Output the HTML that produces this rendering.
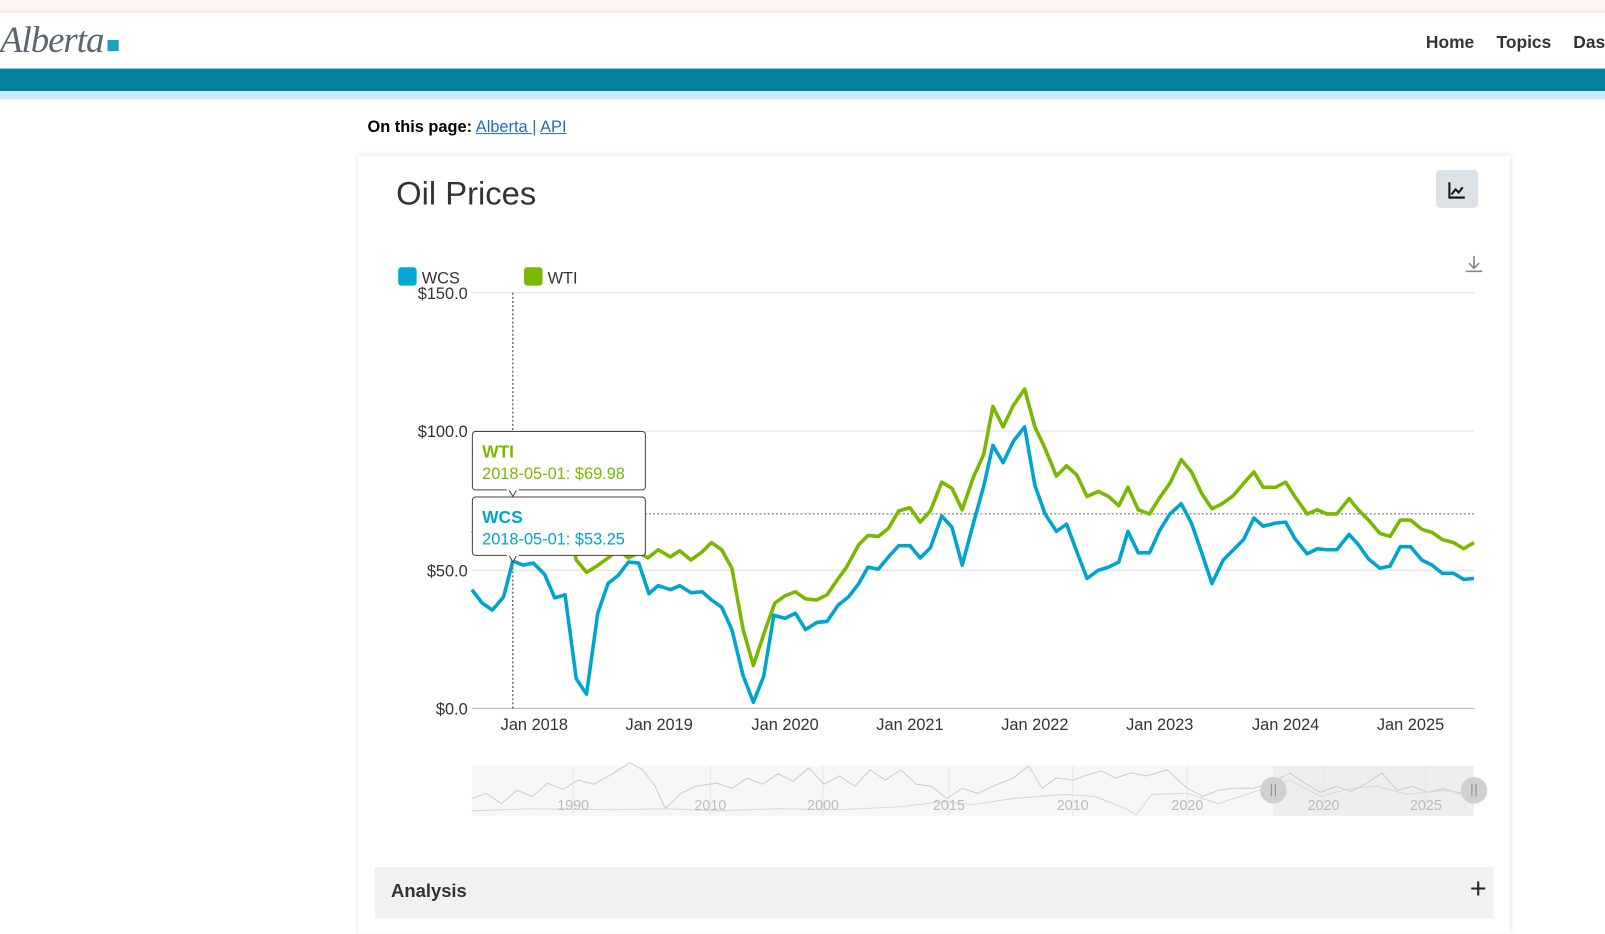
<!DOCTYPE html>
<html><head><meta charset="utf-8"><style>
html,body{margin:0;padding:0;width:1605px;height:905px;overflow:hidden;background:#fff;}
#w{position:absolute;left:0;top:0;width:1568px;height:884px;transform:scale(1.02360,1.02375);transform-origin:0 0;font-family:"Liberation Sans",sans-serif;}
.a{position:absolute;}
</style></head><body><div id="w">
<div class="a" style="left:0;top:0;width:1568px;height:11px;background:#fdf5f3;border-bottom:1px solid #f0dede;"></div>
<div class="a" style="left:0;top:18px;font-family:'Liberation Serif',serif;font-style:italic;font-size:36px;color:#5a6670;letter-spacing:-1px;">Alberta</div>
<div class="a" style="left:105px;top:39px;width:11px;height:11px;background:#1aa1c8;"></div>
<div class="a" style="left:1393px;top:32px;font-size:17px;font-weight:bold;color:#333;">Home</div>
<div class="a" style="left:1462px;top:32px;font-size:17px;font-weight:bold;color:#333;">Topics</div>
<div class="a" style="left:1537px;top:32px;font-size:17px;font-weight:bold;color:#333;">Dashboards</div>
<div class="a" style="left:0;top:67px;width:1568px;height:22px;background:#03809f;"></div>
<div class="a" style="left:0;top:89px;width:1568px;height:8px;background:#c8ecf8;"></div>
<div class="a" style="left:359px;top:116px;font-size:16px;color:#000;"><b>On this page:</b> <span style="color:#1f6fb8;text-decoration:underline;">Alberta </span><span style="color:#1f6fb8;">|</span> <span style="color:#1f6fb8;text-decoration:underline;">API</span></div>
<div class="a" style="left:350px;top:152px;width:1125px;height:760px;background:#fff;box-shadow:0 0 6px rgba(0,0,0,0.15);"></div>
<div class="a" style="left:387px;top:171px;font-size:32px;color:#333;">Oil Prices</div>
<div class="a" style="left:1403px;top:166px;width:41px;height:37px;background:#dce1e6;border-radius:4px;"></div>
<div class="a" style="left:366px;top:847px;width:1093px;height:50px;background:#f1f1f1;"></div>
<div class="a" style="left:382px;top:860px;font-size:18px;font-weight:bold;color:#333;">Analysis</div>
<div class="a" style="left:1436px;top:852px;font-size:28px;color:#222;">+</div>
<svg class="a" style="left:0;top:0" width="1568" height="884" xmlns="http://www.w3.org/2000/svg" font-family="Liberation Sans, sans-serif">
<path d="M1416 178v15h15M1418 190l4-5 3 3 4-5" stroke="#111" stroke-width="2" fill="none"/>
<path d="M1440 250v12M1435 257l5 5 5-5M1432 265h16" stroke="#888" stroke-width="1.6" fill="none"/>
<rect x="389" y="261" width="18" height="18" rx="3" fill="#00a9d4"/><text x="412" y="277" font-size="16" fill="#333">WCS</text>
<rect x="512" y="261" width="18" height="18" rx="3" fill="#7ab800"/><text x="535" y="277" font-size="16" fill="#333">WTI</text>
<g stroke="#ddd" stroke-width="1"><line x1="461" y1="286" x2="1440" y2="286"/><line x1="461" y1="421" x2="1440" y2="421"/><line x1="461" y1="557" x2="1440" y2="557"/></g>
<line x1="461" y1="692" x2="1440" y2="692" stroke="#bbb"/>
<g font-size="16" fill="#333" text-anchor="end"><text x="457" y="292">$150.0</text><text x="457" y="427">$100.0</text><text x="457" y="563">$50.0</text><text x="457" y="698">$0.0</text></g>
<g font-size="16" fill="#333" text-anchor="middle"><text x="522" y="713">Jan 2018</text><text x="644" y="713">Jan 2019</text><text x="767" y="713">Jan 2020</text><text x="889" y="713">Jan 2021</text><text x="1011" y="713">Jan 2022</text><text x="1133" y="713">Jan 2023</text><text x="1256" y="713">Jan 2024</text><text x="1378" y="713">Jan 2025</text></g>
<line x1="501" y1="286" x2="501" y2="692" stroke="#333" stroke-dasharray="2,2"/>
<line x1="630" y1="502" x2="1440" y2="502" stroke="#666" stroke-dasharray="2,2"/>
<polyline fill="none" stroke="#7ab800" stroke-width="3.5" stroke-linejoin="round" points="461,519 471,524 481,522 491,512 501,502 512,508 522,500 532,508 542,502 552,500 563,547 573,559 583,553 594,545 604,537 614,545 624,540 633,545 643,537 655,544 664,538 675,547 686,539 695,530 705,537 715,555 726,615 736,650 748,614 757,589 767,582 777,578 787,585 798,586 808,581 819,565 827,554 839,532 848,523 858,524 868,516 878,499 889,496 899,510 909,499 920,471 930,477 940,498 951,466 961,444 970,397 980,417 990,396 1001,380 1011,417 1021,438 1032,465 1042,455 1052,464 1062,485 1073,480 1083,485 1093,494 1102,476 1112,498 1123,502 1133,486 1143,472 1154,449 1164,461 1174,482 1184,497 1194,492 1205,484 1215,472 1225,461 1234,476 1246,476 1256,471 1265,485 1277,502 1287,498 1296,502 1306,502 1318,487 1327,498 1337,508 1348,521 1358,524 1368,508 1378,508 1389,517 1399,520 1409,527 1420,530 1430,536 1440,530"/>
<polyline fill="none" stroke="#00a5cf" stroke-width="3.5" stroke-linejoin="round" points="461,576 471,589 481,596 492,583 501,548 511,552 521,550 532,561 542,584 552,581 563,663 573,678 584,599 594,570 604,562 614,549 624,550 634,580 643,572 655,576 664,572 675,579 686,578 695,586 705,593 715,615 726,660 736,686 746,661 756,601 767,604 777,599 787,615 798,608 808,607 819,591 829,583 839,570 848,554 858,556 868,544 878,533 889,533 899,545 909,535 920,504 930,515 940,552 951,511 961,475 970,435 980,452 990,431 1001,417 1011,474 1021,502 1032,519 1042,512 1052,539 1062,565 1073,557 1083,554 1093,549 1102,519 1112,540 1123,540 1133,518 1143,502 1154,492 1164,511 1174,540 1184,570 1195,547 1205,537 1215,527 1225,506 1234,514 1246,511 1256,510 1265,526 1277,541 1287,536 1296,537 1306,537 1318,522 1327,532 1337,546 1348,555 1358,553 1368,534 1378,534 1389,547 1399,552 1409,560 1420,560 1430,566 1440,565"/>
<rect x="461.5" y="421.5" width="169" height="57" rx="3" fill="#fff" stroke="#444"/>
<path d="M497 478l4 7 4-7" fill="#fff" stroke="#444"/><rect x="495" y="476" width="12" height="3" fill="#fff"/>
<text x="471" y="447" font-size="17" font-weight="bold" fill="#7ab800">WTI</text>
<text x="471" y="468" font-size="16" fill="#7ab800">2018-05-01: $69.98</text>
<rect x="461.5" y="485.5" width="169" height="57" rx="3" fill="#fff" stroke="#444"/>
<path d="M497 542l4 7 4-7" fill="#fff" stroke="#444"/><rect x="495" y="540" width="12" height="3" fill="#fff"/>
<text x="471" y="511" font-size="17" font-weight="bold" fill="#00a5cf">WCS</text>
<text x="471" y="532" font-size="16" fill="#00a5cf">2018-05-01: $53.25</text>
<rect x="461" y="748" width="979" height="49" fill="#f7f7f7"/>
<rect x="1244" y="748" width="196" height="49" fill="#eeeeee"/>
<g stroke="#e6e6e6"><line x1="560" y1="748" x2="560" y2="797"/><line x1="694" y1="748" x2="694" y2="797"/><line x1="804" y1="748" x2="804" y2="797"/><line x1="927" y1="748" x2="927" y2="797"/><line x1="1048" y1="748" x2="1048" y2="797"/><line x1="1160" y1="748" x2="1160" y2="797"/><line x1="1293" y1="748" x2="1293" y2="797"/><line x1="1393" y1="748" x2="1393" y2="797"/></g>
<polyline fill="none" stroke="#ccc" stroke-width="1" points="461,780 475,775 490,785 505,772 520,778 535,765 550,771 565,762 580,766 600,755 615,745 628,752 640,768 650,790 665,775 680,768 700,765 715,770 730,760 745,766 760,756 775,763 790,750 805,766 820,758 835,768 850,752 865,762 880,752 895,766 910,768 925,780 940,770 955,775 970,768 990,760 1005,748 1018,770 1032,760 1048,762 1062,757 1076,753 1090,760 1105,755 1120,758 1140,752 1160,770 1175,778 1190,772 1205,770 1225,770 1244,764 1260,755 1275,765 1290,774 1305,768 1320,773 1335,765 1350,755 1365,772 1380,768 1395,774 1410,770 1425,775 1440,773"/>
<polyline fill="none" stroke="#d8d8d8" stroke-width="1" points="461,792 520,790 600,791 650,790 700,792 760,790 820,791 880,788 920,783 950,786 990,780 1040,776 1070,778 1100,790 1110,796 1125,776 1160,775 1190,785 1230,772 1260,762 1290,778 1320,770 1345,768 1375,776 1410,772 1440,776"/>
<g font-size="14" fill="#bbb" text-anchor="middle"><text x="560" y="791">1990</text><text x="694" y="791">2010</text><text x="804" y="791">2000</text><text x="927" y="791">2015</text><text x="1048" y="791">2010</text><text x="1160" y="791">2020</text><text x="1293" y="791">2020</text><text x="1393" y="791">2025</text></g>
<circle cx="1244" cy="772" r="13" fill="#d0d0d0"/><circle cx="1440" cy="772" r="13" fill="#d0d0d0"/>
<g stroke="#888"><line x1="1242" y1="766" x2="1242" y2="778"/><line x1="1246" y1="766" x2="1246" y2="778"/><line x1="1438" y1="766" x2="1438" y2="778"/><line x1="1442" y1="766" x2="1442" y2="778"/></g>
</svg>
</div></body></html>
